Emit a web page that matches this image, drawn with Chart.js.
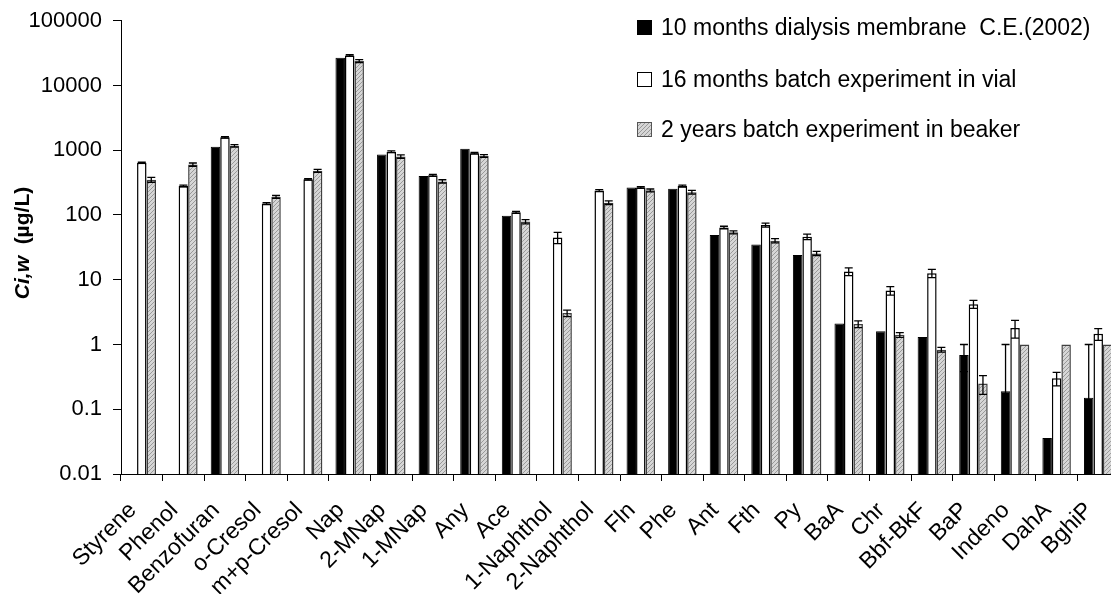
<!DOCTYPE html>
<html>
<head>
<meta charset="utf-8">
<script src="https://cdn.jsdelivr.net/npm/chart.js@4"></script>
<style>
  html, body { margin: 0; padding: 0; background: #fff; overflow: hidden; }
  #wrap { position: relative; width: 1111px; height: 594px; overflow: hidden; }
  #box { width: 1120px; height: 594px; }
</style>
</head>
<body>
<div id="wrap"><div id="box"><canvas id="chart"></canvas></div></div>
<script>
// compounds along the x axis
const categories = ['Styrene', 'Phenol', 'Benzofuran', 'o-Cresol', 'm+p-Cresol', 'Nap', '2-MNap', '1-MNap',
  'Any', 'Ace', '1-Naphthol', '2-Naphthol', 'Fln', 'Phe', 'Ant', 'Fth', 'Py', 'BaA', 'Chr', 'Bbf-BkF',
  'BaP', 'Indeno', 'DahA', 'BghiP'];

const seriesNames = ['10 months dialysis membrane  C.E.(2002)', '16 months batch experiment in vial',
  '2 years batch experiment in beaker'];

// Ci,w in ug/L
const dialysis = [null, null, 1130, null, null, 26800, 860, 400, 1050, 97, null, null, 265, 255, 49, 35, 24,
  2.1, 1.6, 1.3, 0.69, 0.19, 0.036, 0.15];
const vial = [640, 280, 1580, 150, 355, 29000, 950, 410, 900, 110, 45, 238, 265, 280, 64, 70, 46,
  13.4, 6.8, 12.6, 4.2, 1.8, 0.30, 1.46];
const beaker = [350, 600, 1170, 190, 480, 23800, 800, 330, 815, 79, 3.05, 155, 240, 225, 54, 40, 25.5,
  2.07, 1.41, 0.83, 0.25, 1.0, 1.0, 1.0];

// error bar half widths (same units)
const dialysisErr = [null, null, null, null, null, null, null, null, null, null, null, null, null, null, null,
  null, null, null, null, null, 0.31, 0.81, null, 0.85];
const vialErr = [15, 8, 40, 5, 10, 800, 30, 15, 25, 4, 9, 8, 8, 10, 3, 5, 4.5, 1.8, 1.0, 1.8, 0.6, 0.55, 0.07, 0.3];
const beakerErr = [30, 35, 50, 10, 25, 1200, 50, 20, 40, 6, 0.35, 10, 12, 15, 3, 3, 2, 0.25, 0.12, 0.07, 0.08,
  null, null, null];

const yTicks = [0.01, 0.1, 1, 10, 100, 1000, 10000, 100000];
const yTickLabels = ['0.01', '0.1', '1', '10', '100', '1000', '10000', '100000'];

const FONT = '"Liberation Sans", Arial, sans-serif';

const canvas = document.getElementById('chart');
const ctx = canvas.getContext('2d');

// fine diagonal hatch for the gray series
function makeHatch() {
  const c = document.createElement('canvas');
  c.width = 4; c.height = 4;
  const g = c.getContext('2d');
  g.fillStyle = '#d6d6d6';
  g.fillRect(0, 0, 4, 4);
  g.fillStyle = '#999';
  for (let i = 0; i < 4; i++) g.fillRect(i, 3 - i, 1, 1);
  return ctx.createPattern(c, 'repeat');
}
const hatch = makeHatch();

const errs = [dialysisErr, vialErr, beakerErr];

const extras = {
  id: 'extras',
  afterDatasetsDraw(chart) {
    const c = chart.ctx;
    const ys = chart.scales.y;
    // error bars
    c.save();
    c.strokeStyle = '#000';
    c.lineWidth = 1.3;
    errs.forEach((arr, di) => {
      const meta = chart.getDatasetMeta(di);
      const data = chart.data.datasets[di].data;
      meta.data.forEach((el, j) => {
        const v = data[j], e = arr[j];
        if (v == null || !e) return;
        const yt = ys.getPixelForValue(v + e);
        const yb = ys.getPixelForValue(Math.max(v - e, ys.min));
        c.beginPath();
        c.moveTo(el.x, yt); c.lineTo(el.x, yb);
        c.moveTo(el.x - 4, yt); c.lineTo(el.x + 4, yt);
        if (v - e > ys.min) { c.moveTo(el.x - 4, yb); c.lineTo(el.x + 4, yb); }
        c.stroke();
      });
    });
    c.restore();
  },
  afterDraw(chart) {
    const c = chart.ctx;
    c.save();
    // legend
    const rows = [28, 80, 130];
    const fills = ['#000', '#fff', hatch];
    const strokes = ['#000', '#000', '#555'];
    c.font = '23px ' + FONT;
    c.textBaseline = 'middle';
    rows.forEach((y, i) => {
      c.fillStyle = fills[i];
      c.fillRect(637, y - 8, 15, 15);
      c.strokeStyle = strokes[i];
      c.lineWidth = 1;
      c.strokeRect(637.5, y - 7.5, 14, 14);
      c.fillStyle = '#000';
      c.fillText(seriesNames[i], 661, y + 1);
    });
    // y axis title, "Ci,w" in bold italic
    c.translate(23, 243);
    c.rotate(-Math.PI / 2);
    const a = 'Ci,w', b = '  (µg/L)';
    const fa = 'italic bold 21px ' + FONT, fb = 'bold 21px ' + FONT;
    c.font = fa; const wa = c.measureText(a).width;
    c.font = fb; const wb = c.measureText(b).width;
    const x0 = -(wa + wb) / 2;
    c.fillStyle = '#000';
    c.font = fa; c.fillText(a, x0, 0);
    c.font = fb; c.fillText(b, x0 + wa, 0);
    c.restore();
  }
};

new Chart(ctx, {
  type: 'bar',
  data: {
    labels: categories,
    datasets: [
      { label: seriesNames[0], data: dialysis, backgroundColor: '#000', borderColor: '#000', borderWidth: 1 },
      { label: seriesNames[1], data: vial, backgroundColor: '#fff', borderColor: '#000', borderWidth: 1.5 },
      { label: seriesNames[2], data: beaker, backgroundColor: hatch, borderColor: '#404040', borderWidth: 1.5 }
    ]
  },
  options: {
    responsive: true,
    maintainAspectRatio: false,
    animation: false,
    categoryPercentage: 0.685,
    barPercentage: 1.0,
    layout: { padding: { top: 20.7, left: 0, right: 1, bottom: 0 } },
    plugins: { legend: { display: false }, tooltip: { enabled: false } },
    scales: {
      x: {
        afterFit: (s) => { s.height = 120; s.paddingRight = 0; s.paddingLeft = 0; },
        grid: { drawOnChartArea: false, offset: true, tickLength: 7, color: '#000' },
        border: { color: '#000', width: 1 },
        ticks: {
          autoSkip: false, maxRotation: 45, minRotation: 45, padding: 16, labelOffset: -9,
          color: '#000', font: { size: 23, family: FONT }
        }
      },
      y: {
        type: 'logarithmic',
        min: 0.01,
        max: 100000,
        afterFit: (s) => { s.width = 121; s.paddingTop = 0; s.paddingBottom = 0; },
        afterBuildTicks: (s) => { s.ticks = yTicks.map((v) => ({ value: v })); },
        grid: { drawOnChartArea: false, tickLength: 8, color: '#000' },
        border: { color: '#000', width: 1 },
        ticks: {
          padding: 11, color: '#000', font: { size: 22, family: FONT },
          callback: (v, i) => yTickLabels[i]
        }
      }
    }
  },
  plugins: [extras]
});
</script>
</body>
</html>
